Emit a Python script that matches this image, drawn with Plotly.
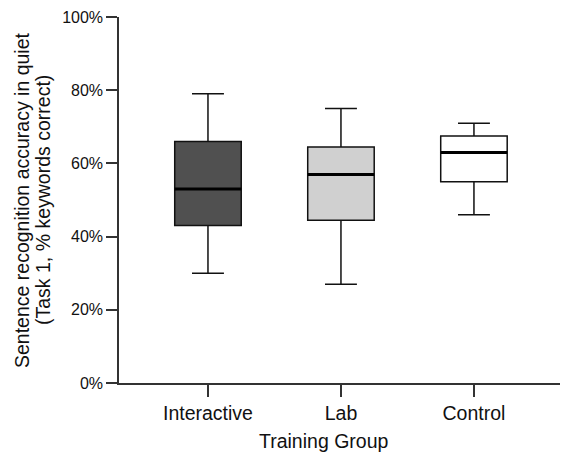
import plotly.graph_objects as go

groups = ["Interactive", "Lab", "Control"]
lower_whisker = [30, 27, 46]
q1 = [43, 44.5, 55]
median = [53, 57, 63]
q3 = [66, 64.5, 67.5]
upper_whisker = [79, 75, 71]
fills = ["#505050", "#d0d0d0", "#ffffff"]
y_ticks = [0, 20, 40, 60, 80, 100]

FONT = "Liberation Sans, Arial, sans-serif"
BOX_W = 0.5

fig = go.Figure()
for i, g in enumerate(groups):
    fig.add_trace(go.Box(
        x=[g], q1=[q1[i]], median=[median[i]], q3=[q3[i]],
        lowerfence=[lower_whisker[i]], upperfence=[upper_whisker[i]],
        fillcolor=fills[i], line=dict(color="#111111", width=1.5),
        width=BOX_W, whiskerwidth=0.48, boxpoints=False,
        showlegend=False, hoverinfo="skip",
    ))
    fig.add_shape(type="line", xref="x", yref="y",
                  x0=i - BOX_W / 2, x1=i + BOX_W / 2, y0=median[i], y1=median[i],
                  line=dict(color="#000000", width=3))

fig.update_layout(
    width=562, height=452,
    margin=dict(l=119, r=2, t=17, b=69),
    paper_bgcolor="white", plot_bgcolor="white",
    font=dict(family=FONT, color="#111111"),
    boxmode="overlay",
)
fig.update_xaxes(
    type="category", categoryorder="array", categoryarray=groups,
    range=[-0.669, 2.647],
    showline=True, linecolor="#333333", linewidth=1.5,
    ticks="outside", ticklen=12, tickwidth=1.5, tickcolor="#333333",
    tickfont=dict(size=19.5, family=FONT, color="#111111"),
    showgrid=False, zeroline=False,
)
fig.update_yaxes(
    range=[0, 100], tickvals=y_ticks, ticktext=[f"{v}%" for v in y_ticks],
    showline=True, linecolor="#333333", linewidth=1.5,
    ticks="outside", ticklen=11, tickwidth=1.5, tickcolor="#333333",
    tickfont=dict(size=16, family=FONT, color="#111111"),
    showgrid=False, zeroline=False,
)
fig.add_annotation(text="Sentence recognition accuracy in quiet", xref="paper", yref="paper",
                   x=0, y=0.5, xanchor="center", yanchor="middle", xshift=-97,
                   textangle=-90, showarrow=False, font=dict(size=19.5, family=FONT, color="#111111"))
fig.add_annotation(text="(Task 1, % keywords correct)", xref="paper", yref="paper",
                   x=0, y=0.5, xanchor="center", yanchor="middle", xshift=-76,
                   textangle=-90, showarrow=False, font=dict(size=19.5, family=FONT, color="#111111"))
fig.add_annotation(text="Training Group", xref="paper", yref="paper",
                   x=0.5, y=0, xanchor="center", yanchor="top", yshift=-45, xshift=-16,
                   showarrow=False, font=dict(size=19.5, family=FONT, color="#111111"))

fig.write_html("out.html", config={"displayModeBar": False},
               post_script="document.body.style.margin='0';document.body.style.overflow='hidden';")
